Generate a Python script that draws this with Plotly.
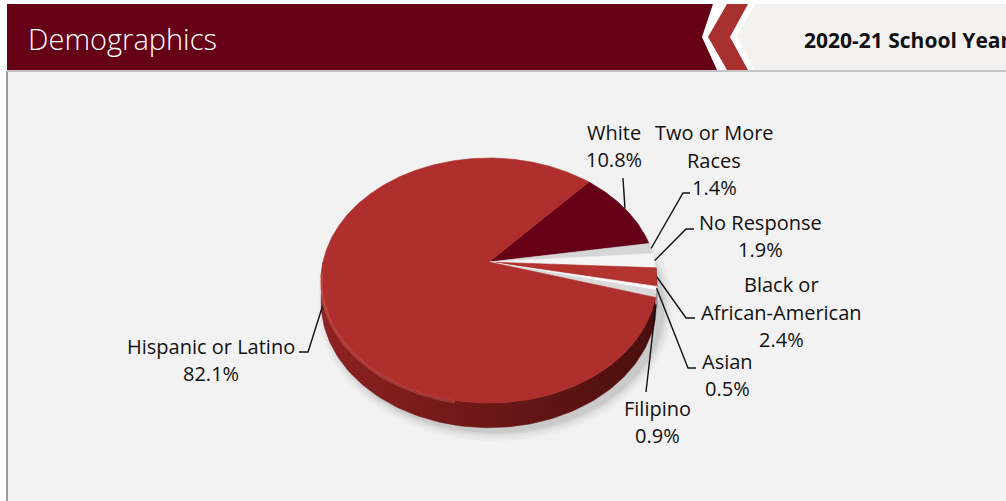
import numpy as np
import plotly.graph_objects as go

# ---------------- data ----------------
categories = ["White", "Two or More Races", "No Response", "Black or African-American",
              "Asian", "Filipino", "Hispanic or Latino"]
values = [10.8, 1.4, 1.9, 2.4, 0.5, 0.9, 82.1]
label_lines = [["White", "10.8%"], ["Two or More", "Races", "1.4%"], ["No Response", "1.9%"],
               ["Black or", "African-American", "2.4%"], ["Asian", "0.5%"], ["Filipino", "0.9%"],
               ["Hispanic or Latino", "82.1%"]]
title_text = "Demographics"
year_text = "2020-21 School Year"

# ---------------- style / layout ----------------
W, H = 1006, 501
slice_colors = ["#650016", "#d6d6d6", "#f4f4f4", "#b3332f", "#fafafa", "#dadada", "#ae2f2d"]
side_colors = ["#3e000d", "#9a9a9a", "#b0b0b0", "#6a1717", "#b5b5b5", "#9c9c9c", None]
CX, CY, RX, RY, K, DEPTH = 489, 262, 166, 119.7, 0.151, 21
START = 48.0  # degrees, slices run clockwise
# label block centres and leader elbow/end points (layout)
label_pos = [(614, 146), (714, 160), (760, 236), (781, 312), (727, 375), (657, 422), (211, 360)]
leader_pts = [[(623, 178)], [(683, 193), (690, 193)], [(686, 229), (694, 229)],
              [(686, 318), (695, 318)], [(688, 368), (696, 368)], [(646, 392)],
              [(308, 352), (299, 352)]]
LINE_H = 27.5
FONT = "Open Sans"
LABEL_SIZE = 20


def proj(theta_deg, z=0.0):
    t = np.radians(theta_deg)
    u, v = np.cos(t), np.sin(t)
    s = 1.0 / (1.0 + K * v)
    return CX + RX * u * s, CY - RY * v * s + z * s


fig = go.Figure()

# shadow
for grow, op in [(10, 0.025), (7, 0.035), (4, 0.05), (1.5, 0.06)]:
    th = np.linspace(0, 360, 200)
    t = np.radians(th)
    u, v = np.cos(t), np.sin(t)
    s = 1.0 / (1.0 + K * v)
    xs = CX + 6 + (RX + grow) * u * s
    ys = CY + 4 - (RY + grow * 0.8) * v * s + DEPTH * s
    fig.add_trace(go.Scatter(x=xs, y=ys, fill="toself", mode="lines", line=dict(width=0),
                             fillcolor=f"rgba(0,0,0,{op})", hoverinfo="skip", showlegend=False))

# slice angles
total = sum(values)
angles = []
a = START
for val in values:
    span = 360.0 * val / total
    angles.append((a, a - span))
    a -= span

# sides (front half only: angles in (-180, 0) mod 360)
for i, (a0, a1) in enumerate(angles):
    for m in (0, -360):
        lo, hi = max(a1, -180 + m), min(a0, 0 + m)
        if hi <= lo:
            continue
        th = np.linspace(hi, lo, 120)
        xt, yt = proj(th)
        xb, yb = proj(th[::-1], DEPTH)
        xs = np.concatenate([xt, xb])
        ys = np.concatenate([yt, yb])
        if side_colors[i] is None:
            fig.add_trace(go.Scatter(
                x=xs, y=ys, fill="toself", mode="lines", line=dict(width=0.5, color="#6e1616"),
                fillgradient=dict(type="horizontal",
                                  colorscale=[[0, "#8e2222"], [0.35, "#761a1a"], [1, "#4a0e0e"]]),
                hoverinfo="skip", showlegend=False))
        else:
            fig.add_trace(go.Scatter(x=xs, y=ys, fill="toself", mode="lines",
                                     line=dict(width=0.5, color=side_colors[i]),
                                     fillcolor=side_colors[i], hoverinfo="skip", showlegend=False))

# top faces
for i, (a0, a1) in enumerate(angles):
    n = max(int(abs(a0 - a1) * 2), 4)
    th = np.linspace(a0, a1, n)
    xr, yr = proj(th)
    xs = np.concatenate([[CX], xr, [CX]])
    ys = np.concatenate([[CY], yr, [CY]])
    fig.add_trace(go.Scatter(x=xs, y=ys, fill="toself", mode="lines",
                             line=dict(width=0.6, color=slice_colors[i]),
                             fillcolor=slice_colors[i], hoverinfo="text",
                             text=f"{categories[i]}: {values[i]}%", showlegend=False))

# subtle rim highlight on lower-left
th = np.linspace(-175, -100, 80)
xh, yh = proj(th)
fig.add_trace(go.Scatter(x=xh, y=yh + 1.5, mode="lines", line=dict(width=3, color="rgba(230,110,100,0.35)"),
                         hoverinfo="skip", showlegend=False))

# leader lines + labels
for i, (a0, a1) in enumerate(angles):
    mid = (a0 + a1) / 2
    ax_, ay_ = proj(mid)
    if np.sin(np.radians(mid)) < -0.25:
        ay_ += DEPTH * 0.5
    pts = [(ax_, ay_)] + leader_pts[i]
    fig.add_trace(go.Scatter(x=[p[0] for p in pts], y=[p[1] for p in pts], mode="lines",
                             line=dict(color="#111111", width=1.4), hoverinfo="skip", showlegend=False))
    cx, cy = label_pos[i]
    lines = label_lines[i]
    n = len(lines)
    for j, txt in enumerate(lines):
        fig.add_annotation(x=cx, y=cy + (j - (n - 1) / 2) * LINE_H, text=txt, showarrow=False,
                           xanchor="center", yanchor="middle",
                           font=dict(family=FONT, size=LABEL_SIZE, color="#111111"))

# ---------------- header / panel shapes ----------------
shapes = [
    dict(type="rect", x0=7, x1=W, y0=71, y1=H, fillcolor="#f2f2f2", line=dict(width=0), layer="below"),
    dict(type="line", x0=7, x1=7, y0=71, y1=H, line=dict(color="#9a9a9a", width=2), layer="below"),
    dict(type="line", x0=7, x1=W, y0=71, y1=71, line=dict(color="#c4c4c4", width=2), layer="below"),
    dict(type="path", path="M 7 4 L 713 4 L 702 37 L 717 70 L 7 70 Z",
         fillcolor="#650016", line=dict(width=0), layer="below"),
    dict(type="path", path="M 727 4 L 748 4 L 730 37 L 748 70 L 727 70 L 708 37 Z",
         fillcolor="#a8312f", line=dict(width=0), layer="below"),
    dict(type="path", path="M 755 4 L 1006 4 L 1006 70 L 755 70 L 737 37 Z",
         fillcolor="#f3f2f1", line=dict(width=0), layer="below"),
]

fig.add_annotation(x=26, y=38, text=title_text, showarrow=False, xanchor="left", yanchor="middle",
                   font=dict(family=FONT, size=29, color="white", weight=300))
fig.add_annotation(x=802, y=40, text=f"<b>{year_text}</b>", showarrow=False, xanchor="left",
                   yanchor="middle", font=dict(family=FONT, size=21, color="#111111"))

fig.update_layout(
    width=W, height=H, margin=dict(l=0, r=0, t=0, b=0),
    paper_bgcolor="white", plot_bgcolor="rgba(0,0,0,0)",
    xaxis=dict(range=[0, W], visible=False, fixedrange=True),
    yaxis=dict(range=[H, 0], visible=False, fixedrange=True),
    shapes=shapes, showlegend=False,
)

fig.write_html("out.html", config={"displayModeBar": False})
